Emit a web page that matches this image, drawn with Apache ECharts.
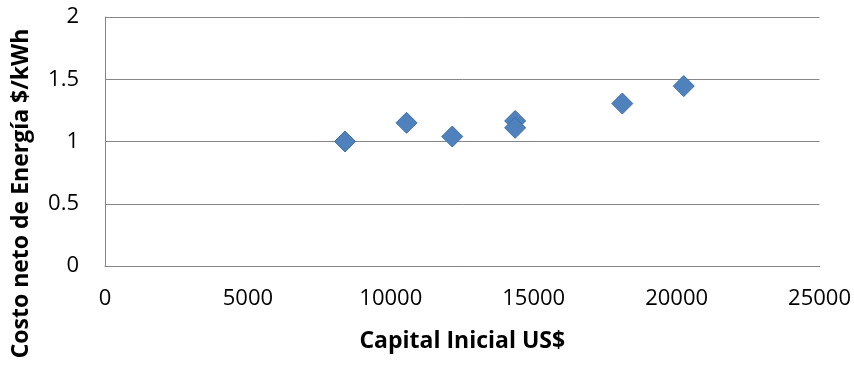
<!DOCTYPE html>
<html>
<head>
<meta charset="utf-8">
<script src="https://cdn.jsdelivr.net/npm/echarts@6/dist/echarts.min.js"></script>
<style>
  html, body { margin: 0; padding: 0; background: #fff; }
  #chart { width: 854px; height: 368px; }
</style>
</head>
<body>
<div id="chart"></div>
<script>
// capital inicial (US$) vs costo neto de energía ($/kWh)
var capital = [8400, 10550, 12150, 14350, 14350, 18100, 20250];
var costo = [1.0, 1.15, 1.04, 1.165, 1.11, 1.305, 1.445];
var xTicks = [0, 5000, 10000, 15000, 20000, 25000];
var yTicks = [0, 0.5, 1, 1.5, 2];

var points = capital.map(function (c, i) { return [c, costo[i]]; });
var font = '"Open Sans", "Liberation Sans", sans-serif';

var chart = echarts.init(document.getElementById('chart'));
chart.setOption({
  animation: false,
  grid: { left: 105, right: 34, top: 17, bottom: 102 },
  xAxis: {
    type: 'value',
    min: xTicks[0],
    max: xTicks[xTicks.length - 1],
    interval: 5000,
    name: 'Capital Inicial US$',
    nameLocation: 'middle',
    nameGap: 64,
    nameTextStyle: { color: '#000', fontSize: 23, fontWeight: 'bold', fontFamily: font },
    axisLine: { show: true, lineStyle: { color: '#868686', width: 1 } },
    axisTick: { show: false },
    axisLabel: {
      color: '#000', fontSize: 22, fontFamily: font, margin: 22,
      formatter: function (v) { return String(v); }
    },
    splitLine: { show: false }
  },
  yAxis: {
    type: 'value',
    min: yTicks[0],
    max: yTicks[yTicks.length - 1],
    interval: 0.5,
    name: 'Costo neto de Energía $/kWh',
    nameLocation: 'middle',
    nameGap: 72,
    nameTextStyle: {
      color: '#000', fontSize: 23, fontWeight: 'bold', fontFamily: font,
      padding: [0, 104, 0, 0]
    },
    axisLine: { show: true, lineStyle: { color: '#868686', width: 1 } },
    axisTick: { show: false },
    axisLabel: { color: '#000', fontSize: 22, fontFamily: font, margin: 26 },
    splitLine: { show: true, lineStyle: { color: '#868686', width: 1 } }
  },
  series: [{
    type: 'scatter',
    data: points,
    symbol: 'diamond',
    symbolSize: [21, 21],
    itemStyle: { color: '#4F81BD', borderColor: '#3E6EA6', borderWidth: 1, opacity: 1 }
  }]
});
</script>
</body>
</html>
